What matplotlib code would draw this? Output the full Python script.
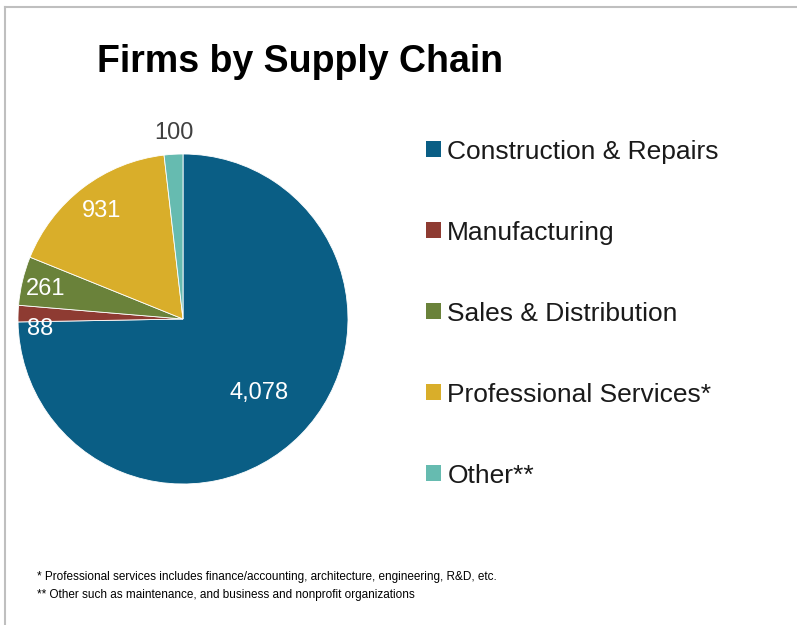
import matplotlib.pyplot as plt
from matplotlib.lines import Line2D
from matplotlib.patches import Patch
import numpy as np

categories = ["Construction & Repairs", "Manufacturing", "Sales & Distribution",
              "Professional Services*", "Other**"]
firms = [4078, 88, 261, 931, 100]
value_labels = ["4,078", "88", "261", "931", "100"]
colors = ["#0A5E85", "#8E3B32", "#6A823A", "#D9AE2A", "#66BBB0"]

# label placement: radius as fraction of pie radius, small angle nudge in degrees
label_r = [0.64, 0.87, 0.85, 0.82, 1.13]
label_nudge = [0.3, 5.8, 1.0, -0.4, -0.5]
label_colors = ["white", "white", "white", "white", "#404040"]

footnotes = ["* Professional services includes finance/accounting, architecture, engineering, R&D, etc.",
             "** Other such as maintenance, and business and nonprofit organizations"]

plt.rcParams['font.family'] = ['Liberation Sans', 'DejaVu Sans']

W, H = 797, 625
fig = plt.figure(figsize=(W / 100, H / 100), dpi=100)

# pie axes: center (183, 319), radius ~165 px
R = 165
cx, cy = 183, 319
ax = fig.add_axes([(cx - R) / W, 1 - (cy + R) / H, 2 * R / W, 2 * R / H])
wedges, _ = ax.pie(firms, colors=colors, startangle=90, counterclock=False,
                   radius=1.0, wedgeprops=dict(linewidth=0.6, edgecolor="white"))
ax.set_xlim(-1, 1)
ax.set_ylim(-1, 1)
ax.set_aspect("equal")
ax.axis("off")

for w, txt, r, dn, c in zip(wedges, value_labels, label_r, label_nudge, label_colors):
    mid = np.deg2rad((w.theta1 + w.theta2) / 2 + dn)
    ax.text(r * np.cos(mid), r * np.sin(mid), txt, ha="center", va="center",
            fontsize=17, color=c, clip_on=False)

fig.text(300 / W, 1 - 62 / H, "Firms by Supply Chain", ha="center", va="center",
         fontsize=27, fontweight="bold", color="black")

handles = [Patch(facecolor=c, edgecolor="none") for c in colors]
leg = fig.legend(handles, categories, loc="upper left",
                 bbox_to_anchor=(413 / W, 1 - 126.5 / H), frameon=False,
                 fontsize=19, handlelength=0.55, handleheight=0.55,
                 handletextpad=0.25, labelspacing=2.16, borderpad=0)
for t in leg.get_texts():
    t.set_color("#1a1a1a")

for i, line in enumerate(footnotes):
    fig.text(37 / W, 1 - (577 + 18 * i) / H, line, ha="left", va="center",
             fontsize=8.5, color="black")

# light gray frame (top and left edges visible)
fig.add_artist(Line2D([4.5 / W, 4.5 / W], [0, 1 - 6.5 / H], transform=fig.transFigure,
                      color="#BFBFBF", linewidth=1.5))
fig.add_artist(Line2D([4.5 / W, 1], [1 - 6.5 / H, 1 - 6.5 / H], transform=fig.transFigure,
                      color="#BFBFBF", linewidth=1.5))

fig.savefig("out.png", dpi=100, facecolor="white")
